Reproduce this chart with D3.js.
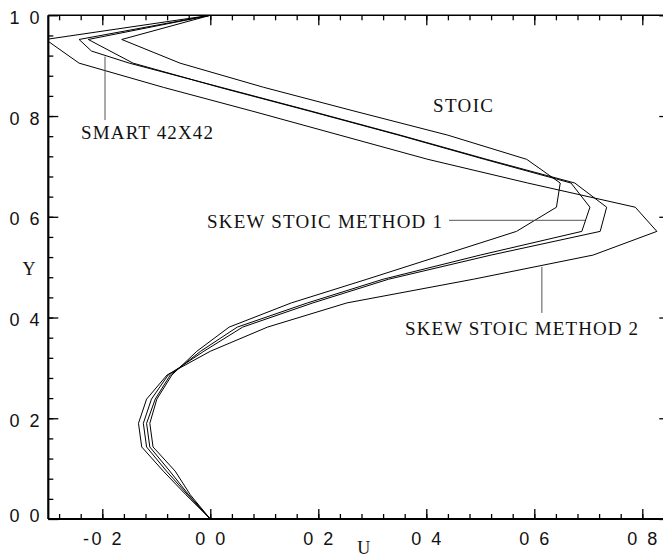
<!DOCTYPE html>
<html>
<head>
<meta charset="utf-8">
<script src="https://cdn.jsdelivr.net/npm/d3@7/dist/d3.min.js"></script>
<style>
  html, body { margin: 0; padding: 0; background: #fff; }
  svg { display: block; }
  .tick-label { font-family: "Liberation Sans Narrow", "Liberation Sans", Arial, sans-serif; font-size: 18px; fill: #111; letter-spacing: 2.5px; }
  .note { font-family: "Liberation Serif", "Times New Roman", serif; font-size: 19px; fill: #111; }
  .title { font-family: "Liberation Serif", "Times New Roman", serif; font-size: 18px; fill: #111; }
</style>
</head>
<body>
<script>
// Vertical positions of the 21-cell grid lines
const yGrid = [0.000, 0.048, 0.095, 0.143, 0.190, 0.238, 0.286, 0.333, 0.381, 0.429, 0.476,
               0.524, 0.571, 0.619, 0.667, 0.714, 0.762, 0.810, 0.857, 0.905, 0.952, 1.000];

// U velocity profiles on the 21-cell grid
const stoicU   = [0, -0.037, -0.065, -0.106, -0.112, -0.099, -0.071, -0.025, 0.035, 0.150, 0.290,
                  0.430, 0.567, 0.641, 0.648, 0.586, 0.440, 0.266, 0.099, -0.056, -0.164, 0];
const method1U = [0, -0.040, -0.075, -0.112, -0.118, -0.102, -0.074, -0.018, 0.050, 0.180, 0.320,
                  0.500, 0.688, 0.703, 0.668, 0.508, 0.349, 0.183, 0.017, -0.143, -0.226, 0];
const method2U = [0, -0.045, -0.087, -0.127, -0.133, -0.118, -0.080, 0.000, 0.106, 0.253, 0.487,
                  0.709, 0.827, 0.787, 0.588, 0.403, 0.240, 0.077, -0.087, -0.243, -0.305, 0];

// Reference solution on the 42x42 grid
const smartY = [0.000, 0.048, 0.095, 0.143, 0.190, 0.238, 0.286, 0.333, 0.381, 0.429, 0.476,
                0.524, 0.571, 0.619, 0.667, 0.714, 0.762, 0.810, 0.857, 0.905, 0.929, 0.952, 1.000];
const smartU = [0, -0.042, -0.081, -0.118, -0.124, -0.109, -0.078, -0.012, 0.060, 0.190, 0.330,
                0.520, 0.722, 0.734, 0.675, 0.512, 0.352, 0.186, 0.020, -0.150, -0.220, -0.243, 0];

// Axis ticks and labels
const xMajor = [-0.2, 0.0, 0.2, 0.4, 0.6, 0.8];
const xLabels = ["-0 2", "0 0", "0 2", "0 4", "0 6", "0 8"];
const yMajor = [0.0, 0.2, 0.4, 0.6, 0.8, 1.0];
const yLabels = ["0 0", "0 2", "0 4", "0 6", "0 8", "1 0"];

const W = 663, H = 558;
const x = d3.scaleLinear().domain([-0.3, 0.85]).range([48.3, 669.3]);
const y = d3.scaleLinear().domain([0, 1]).range([519, 15.3]);

const svg = d3.select("body").append("svg").attr("width", W).attr("height", H);

const [x0, x1] = x.range();
const [yb, yt] = y.range();

svg.append("defs").append("clipPath").attr("id", "plot-clip")
  .append("rect").attr("x", x0).attr("y", yt).attr("width", x1 - x0).attr("height", yb - yt);

// Tick marks (all pointing into the frame)
const xMinor = d3.range(-0.28, 0.85, 0.04).map(v => +v.toFixed(2));
const yMinor = d3.range(0.04, 1.0, 0.04).map(v => +v.toFixed(2));

function ticks(axisFn, scale, values, size, transform) {
  const g = svg.append("g").attr("transform", transform)
    .call(axisFn(scale).tickValues(values).tickSize(size).tickSizeOuter(0).tickFormat(""));
  g.select(".domain").remove();
  g.selectAll("line").attr("stroke", "#000").attr("stroke-width", 1.3);
  return g;
}
ticks(d3.axisBottom, x, xMinor, -5, `translate(0,${yb})`);
ticks(d3.axisBottom, x, xMajor, -10, `translate(0,${yb})`);
ticks(d3.axisTop, x, xMinor, -5, `translate(0,${yt})`);
ticks(d3.axisTop, x, xMajor, -10, `translate(0,${yt})`);
ticks(d3.axisLeft, y, yMinor, -5, `translate(${x0},0)`);
ticks(d3.axisLeft, y, yMajor, -10, `translate(${x0},0)`);
ticks(d3.axisRight, y, yMinor, -5, `translate(${x1},0)`);
ticks(d3.axisRight, y, yMajor, -10, `translate(${x1},0)`);

// Frame
svg.append("line").attr("x1", x0).attr("x2", x1).attr("y1", yb).attr("y2", yb)
  .attr("stroke", "#000").attr("stroke-width", 2.2);
svg.append("line").attr("x1", x0).attr("x2", x0).attr("y1", yt).attr("y2", yb)
  .attr("stroke", "#000").attr("stroke-width", 2.2);
svg.append("line").attr("x1", x0).attr("x2", x1).attr("y1", yt).attr("y2", yt)
  .attr("stroke", "#000").attr("stroke-width", 1.5);
svg.append("line").attr("x1", x1).attr("x2", x1).attr("y1", yt).attr("y2", yb)
  .attr("stroke", "#000").attr("stroke-width", 1.5);

// Tick labels
svg.append("g").selectAll("text").data(xMajor).join("text")
  .attr("class", "tick-label")
  .attr("x", d => x(d) + 1.25).attr("y", 545)
  .attr("text-anchor", "middle")
  .text((d, i) => xLabels[i]);

svg.append("g").selectAll("text").data(yMajor).join("text")
  .attr("class", "tick-label")
  .attr("x", 42).attr("y", d => y(d) + (d === 0 ? 3 : 8.5))
  .attr("text-anchor", "end")
  .text((d, i) => yLabels[i]);

// Axis titles
svg.append("text").attr("class", "title").attr("x", 29).attr("y", 275)
  .attr("text-anchor", "middle").text("Y");
svg.append("text").attr("class", "title").attr("x", x(0.284)).attr("y", 554)
  .attr("text-anchor", "middle").text("U");

// Velocity profiles
const profiles = [
  { name: "STOIC", ys: yGrid, us: stoicU },
  { name: "SKEW STOIC METHOD 1", ys: yGrid, us: method1U },
  { name: "SKEW STOIC METHOD 2", ys: yGrid, us: method2U },
  { name: "SMART 42X42", ys: smartY, us: smartU }
];
const line = d3.line().x(d => x(d[0])).y(d => y(d[1]));
svg.append("g").attr("clip-path", "url(#plot-clip)")
  .selectAll("path").data(profiles).join("path")
  .attr("d", p => line(p.us.map((u, i) => [u, p.ys[i]])))
  .attr("fill", "none").attr("stroke", "#000").attr("stroke-width", 1);

// Curve labels with leader lines (anchor points in data units)
const leaders = [
  { u1: -0.195, v1: 0.792, u2: -0.195, v2: 0.918 },
  { u1: 0.442, v1: 0.593, u2: 0.694, v2: 0.593 },
  { u1: 0.614, v1: 0.409, u2: 0.614, v2: 0.5006 }
];
svg.append("g").selectAll("line").data(leaders).join("line")
  .attr("x1", d => x(d.u1)).attr("y1", d => y(d.v1))
  .attr("x2", d => x(d.u2)).attr("y2", d => y(d.v2))
  .attr("stroke", "#555").attr("stroke-width", 1);

const notes = [
  { text: "SMART 42X42", x: 81, y: 139, w: 132 },
  { text: "STOIC", x: 433, y: 112, w: 60 },
  { text: "SKEW STOIC METHOD 1", x: 207, y: 228, w: 235 },
  { text: "SKEW STOIC METHOD 2", x: 405, y: 335, w: 233 }
];
svg.append("g").selectAll("text").data(notes).join("text")
  .attr("class", "note")
  .attr("x", d => d.x).attr("y", d => d.y)
  .attr("textLength", d => d.w).attr("lengthAdjust", "spacing")
  .text(d => d.text);
</script>
</body>
</html>
